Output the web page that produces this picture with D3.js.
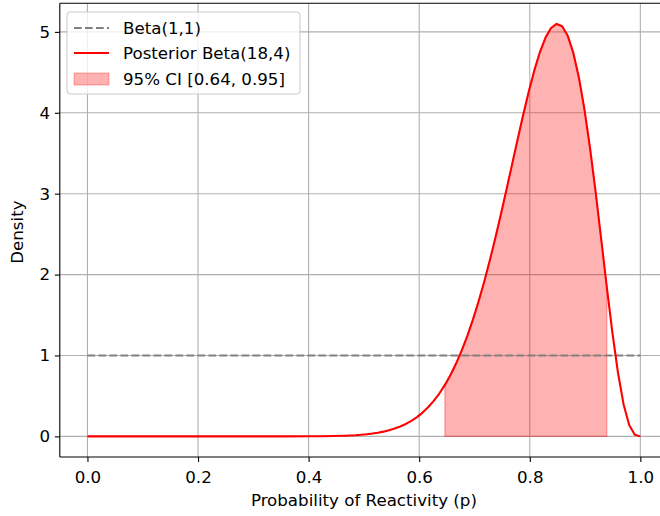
<!DOCTYPE html>
<html>
<head>
<meta charset="utf-8">
<script src="https://cdn.jsdelivr.net/npm/d3@7"></script>
<style>
  html, body { margin: 0; padding: 0; background: #fff; }
  svg text { font-family: "DejaVu Sans", sans-serif; }
</style>
</head>
<body>
<svg id="chart" width="660" height="516"></svg>
<script>
// Grid of probabilities p and posterior Beta(18,4) density at each p
const pValues = [
  0.0000, 0.1010, 0.2020, 0.3030, 0.3535, 0.4040, 0.4242, 0.4444, 0.4646, 0.4848,
  0.5051, 0.5152, 0.5253, 0.5354, 0.5455, 0.5556, 0.5657, 0.5758, 0.5859, 0.5960,
  0.6061, 0.6162, 0.6263, 0.6364, 0.6465, 0.6566, 0.6667, 0.6768, 0.6869, 0.6970,
  0.7071, 0.7172, 0.7273, 0.7374, 0.7475, 0.7576, 0.7677, 0.7778, 0.7879, 0.7980,
  0.8081, 0.8182, 0.8283, 0.8384, 0.8485, 0.8586, 0.8687, 0.8788, 0.8889, 0.8990,
  0.9091, 0.9192, 0.9293, 0.9394, 0.9495, 0.9596, 0.9697, 0.9798, 0.9899, 1.0000
];
const posteriorDensity = [
  0.0000, 0.0000, 0.0000, 0.00001, 0.00014, 0.0010, 0.0021, 0.0042, 0.0081, 0.0148,
  0.0263, 0.0346, 0.0452, 0.0585, 0.0753, 0.0962, 0.1219, 0.1535, 0.1919, 0.2383,
  0.2939, 0.3601, 0.4382, 0.5298, 0.6363, 0.7593, 0.8999, 1.0596, 1.2393, 1.4395,
  1.6607, 1.9023, 2.1635, 2.4424, 2.7364, 3.0416, 3.3530, 3.6646, 3.9691, 4.2577,
  4.5208, 4.7477, 4.9272, 5.0479, 5.0985, 5.0690, 4.9513, 4.7401, 4.4341, 4.0369,
  3.5586, 3.0158, 2.4328, 1.8411, 1.2779, 0.7833, 0.3948, 0.1395, 0.0208, 0.0000
];
// Uniform prior Beta(1,1)
const priorP = [0, 1];
const priorDensity = [1, 1];
// 95% credible interval bounds
const ciBounds = [0.640, 0.946];

const xTicks = [0.0, 0.2, 0.4, 0.6, 0.8, 1.0];
const yTicks = [0, 1, 2, 3, 4, 5];
const xLabel = "Probability of Reactivity (p)";
const yLabel = "Density";
const legendLabels = [
  "Beta(1,1)",
  "Posterior Beta(18,4)",
  `95% CI [${ciBounds[0].toFixed(2)}, ${ciBounds[1].toFixed(2)}]`
];

const svg = d3.select("#chart");
const plot = { left: 59.8, right: 668, top: 3.3, bottom: 457 };
const x = d3.scaleLinear().domain([-0.05, 1.05]).range([plot.left, plot.right]);
const yMax = d3.max(posteriorDensity);
const yPad = 0.05 * yMax;
const y = d3.scaleLinear().domain([-yPad, yMax + yPad]).range([plot.bottom, plot.top]);

const posterior = pValues.map((p, i) => ({ p, d: posteriorDensity[i] }));
const prior = priorP.map((p, i) => ({ p, d: priorDensity[i] }));

const fontPx = 16.67;

// gridlines
const grid = svg.append("g");
grid.selectAll("line.gx").data(xTicks).join("line")
  .attr("x1", d => x(d)).attr("x2", d => x(d))
  .attr("y1", plot.top).attr("y2", plot.bottom)
  .attr("stroke", "#b0b0b0").attr("stroke-width", 1.1);
grid.selectAll("line.gy").data(yTicks).join("line")
  .attr("y1", d => y(d)).attr("y2", d => y(d))
  .attr("x1", plot.left).attr("x2", plot.right)
  .attr("stroke", "#b0b0b0").attr("stroke-width", 1.1);

// credible interval shading
const ciData = posterior.filter(o => o.p >= ciBounds[0] && o.p <= ciBounds[1]);
svg.append("path")
  .datum(ciData)
  .attr("d", d3.area().x(o => x(o.p)).y0(y(0)).y1(o => y(o.d)))
  .attr("fill", "red").attr("fill-opacity", 0.3)
  .attr("stroke", "red").attr("stroke-opacity", 0.3).attr("stroke-width", 1.4);

// prior
svg.append("path")
  .datum(prior)
  .attr("d", d3.line().x(o => x(o.p)).y(o => y(o.d)))
  .attr("fill", "none").attr("stroke", "gray").attr("stroke-width", 2.08)
  .attr("stroke-dasharray", "7.7,3.3");

// posterior
svg.append("path")
  .datum(posterior)
  .attr("d", d3.line().x(o => x(o.p)).y(o => y(o.d)))
  .attr("fill", "none").attr("stroke", "red").attr("stroke-width", 2.08)
  .attr("stroke-linejoin", "round").attr("stroke-linecap", "butt");

// axes
const xAxis = svg.append("g")
  .attr("transform", `translate(0,${plot.bottom})`)
  .call(d3.axisBottom(x).tickValues(xTicks).tickFormat(d3.format(".1f")).tickSizeInner(4.9).tickSizeOuter(0).tickPadding(4.9));
const yAxis = svg.append("g")
  .attr("transform", `translate(${plot.left},0)`)
  .call(d3.axisLeft(y).tickValues(yTicks).tickFormat(d3.format("d")).tickSizeInner(4.9).tickSizeOuter(0).tickPadding(4.9));
[xAxis, yAxis].forEach(g => {
  g.select(".domain").remove();
  g.selectAll(".tick line").attr("stroke", "#000").attr("stroke-width", 1.1);
  g.selectAll(".tick text").attr("font-size", fontPx).attr("fill", "#000")
    .attr("font-family", "DejaVu Sans, sans-serif");
});
xAxis.selectAll(".tick text").attr("dy", null).attr("y", 0).attr("transform", "translate(0,25.7)");

// spines
const spine = svg.append("g").attr("stroke", "#000").attr("stroke-width", 1.1).attr("fill", "none");
spine.append("line").attr("x1", plot.left).attr("x2", plot.right).attr("y1", plot.bottom).attr("y2", plot.bottom);
spine.append("line").attr("x1", plot.left).attr("x2", plot.right).attr("y1", plot.top).attr("y2", plot.top);
spine.append("line").attr("x1", plot.left).attr("x2", plot.left).attr("y1", plot.top).attr("y2", plot.bottom);
spine.append("line").attr("x1", plot.right).attr("x2", plot.right).attr("y1", plot.top).attr("y2", plot.bottom);

// axis labels
svg.append("text")
  .attr("x", (plot.left + plot.right) / 2).attr("y", 506)
  .attr("text-anchor", "middle").attr("font-size", fontPx).text(xLabel);
svg.append("text")
  .attr("transform", `translate(23,${(plot.top + plot.bottom) / 2 + 2}) rotate(-90)`)
  .attr("text-anchor", "middle").attr("font-size", fontPx).text(yLabel);

// legend
const lg = svg.append("g").attr("transform", "translate(67,12)");
lg.append("rect").attr("x", 0).attr("y", 0).attr("width", 233).attr("height", 82)
  .attr("rx", 3.5).attr("fill", "#fff").attr("fill-opacity", 0.8)
  .attr("stroke", "#cccccc").attr("stroke-width", 1.1);
const rowY = [16, 41, 67];
lg.append("line").attr("x1", 7).attr("x2", 42).attr("y1", rowY[0]).attr("y2", rowY[0])
  .attr("stroke", "gray").attr("stroke-width", 2.08).attr("stroke-dasharray", "7.7,3.3");
lg.append("line").attr("x1", 7).attr("x2", 42).attr("y1", rowY[1]).attr("y2", rowY[1])
  .attr("stroke", "red").attr("stroke-width", 2.08);
lg.append("rect").attr("x", 7).attr("y", rowY[2] - 6).attr("width", 35).attr("height", 12)
  .attr("fill", "red").attr("fill-opacity", 0.3).attr("stroke", "red").attr("stroke-opacity", 0.3);
lg.selectAll("text.lab").data(legendLabels).join("text")
  .attr("x", 56).attr("y", (d, i) => rowY[i]).attr("dy", "0.36em")
  .attr("font-size", fontPx).attr("fill", "#000").text(d => d);
</script>
</body>
</html>
